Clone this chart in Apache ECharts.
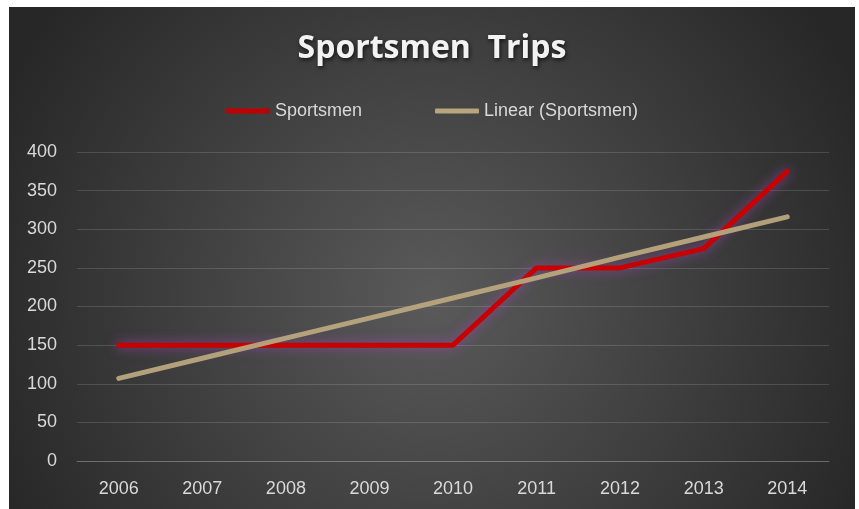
<!DOCTYPE html>
<html>
<head>
<meta charset="utf-8">
<script src="https://cdn.jsdelivr.net/npm/echarts@6/dist/echarts.min.js"></script>
<style>
  html, body { margin: 0; padding: 0; background: #fff; }
  #chart { position: absolute; left: 9px; top: 7px; width: 846px; height: 502px; }
</style>
</head>
<body>
<div id="chart"></div>
<script>
const years = ['2006', '2007', '2008', '2009', '2010', '2011', '2012', '2013', '2014'];
const sportsmen = [150, 150, 150, 150, 150, 250, 250, 275, 375];
// trend line
const linearSportsmen = [107, 133, 159, 185, 211, 237, 264, 290, 316];

const chart = echarts.init(document.getElementById('chart'));

const option = {
  backgroundColor: {
    type: 'radial', x: 0.5, y: 0.58, r: 0.95,
    colorStops: [
      { offset: 0, color: '#5a5a5a' },
      { offset: 1, color: '#272727' }
    ]
  },
  title: {
    text: 'Sportsmen  Trips',
    left: 'center',
    top: 21,
    textStyle: {
      color: '#f2f2f2',
      fontFamily: 'Open Sans',
      fontWeight: 'bold',
      fontSize: 32,
      textShadowColor: 'rgba(0,0,0,0.7)',
      textShadowBlur: 4,
      textShadowOffsetX: 1,
      textShadowOffsetY: 2
    }
  },
  legend: {
    top: 90,
    left: 'center',
    itemWidth: 44,
    itemHeight: 5,
    itemGap: 73,
    icon: 'roundRect',
    textStyle: { color: '#d9d9d9', fontFamily: 'Liberation Sans', fontSize: 18 },
    data: ['Sportsmen', 'Linear (Sportsmen)']
  },
  grid: { left: 68, right: 26, top: 145, bottom: 48 },
  xAxis: {
    type: 'category',
    data: years,
    axisLine: { lineStyle: { color: 'rgba(255,255,255,0.18)', width: 1 } },
    axisTick: { show: false },
    axisLabel: { color: '#d9d9d9', fontFamily: 'Liberation Sans', fontSize: 18, margin: 19 }
  },
  yAxis: {
    type: 'value',
    min: 0, max: 400, interval: 50,
    axisLine: { show: false },
    axisTick: { show: false },
    axisLabel: { color: '#d9d9d9', fontFamily: 'Liberation Sans', fontSize: 18, margin: 20 },
    splitLine: { lineStyle: { color: 'rgba(255,255,255,0.14)', width: 1 } }
  },
  series: [
    {
      name: 'Sportsmen',
      type: 'line',
      data: sportsmen,
      symbol: 'none',
      color: '#c00000',
      lineStyle: {
        color: '#c80000', width: 5, cap: 'round', join: 'round',
        shadowColor: 'rgba(160,70,180,0.8)', shadowBlur: 12
      },
      z: 2
    },
    {
      name: 'Linear (Sportsmen)',
      type: 'line',
      data: linearSportsmen,
      symbol: 'none',
      color: '#b8a67e',
      lineStyle: { color: '#b8a67e', width: 5, cap: 'round', opacity: 0.95 },
      z: 3
    }
  ]
};

chart.setOption(option);
</script>
</body>
</html>
